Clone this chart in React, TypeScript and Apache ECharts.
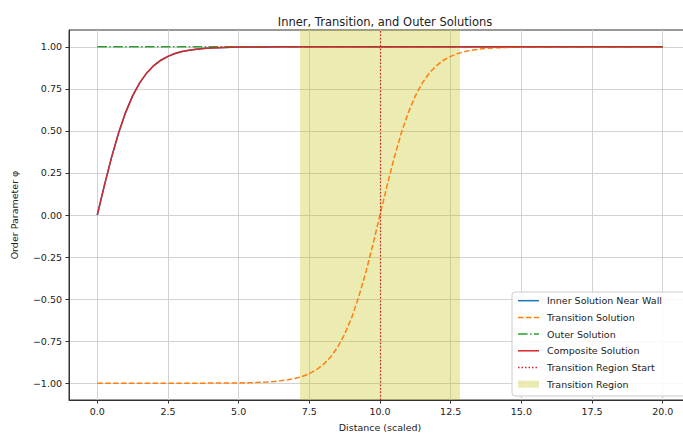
import React, { useEffect, useRef } from "react";
import * as echarts from "echarts";

const xs = [
  0, 0.25, 0.5, 0.75, 1, 1.25, 1.5, 1.75, 2, 2.25, 2.5, 2.75, 3, 3.25, 3.5, 3.75, 4,
  4.25, 4.5, 4.75, 5, 5.25, 5.5, 5.75, 6, 6.25, 6.5, 6.75, 7, 7.25, 7.5, 7.75, 8,
  8.25, 8.5, 8.75, 9, 9.25, 9.5, 9.75, 10, 10.25, 10.5, 10.75, 11, 11.25, 11.5, 11.75, 12,
  12.25, 12.5, 12.75, 13, 13.25, 13.5, 13.75, 14, 14.25, 14.5, 14.75, 15, 15.25, 15.5, 15.75, 16,
  16.25, 16.5, 16.75, 17, 17.25, 17.5, 17.75, 18, 18.25, 18.5, 18.75, 19, 19.25, 19.5, 19.75, 20,
];

const innerValues = [
  0, 0.175, 0.3395, 0.4857, 0.6089, 0.7084, 0.7859, 0.8447, 0.8884, 0.9203, 0.9434, 0.9599, 0.9717, 0.98, 0.9859, 0.9901, 0.993,
  0.9951, 0.9966, 0.9976, 0.9983, 0.9988, 0.9992, 0.9994, 0.9996, 0.9997, 0.9998, 0.9999, 1, 1, 1, 1, 1,
  1, 1, 1, 1, 1, 1, 1, 1, 1, 1, 1, 1, 1, 1, 1, 1,
  1, 1, 1, 1, 1, 1, 1, 1, 1, 1, 1, 1, 1, 1, 1, 1,
  1, 1, 1, 1, 1, 1, 1, 1, 1, 1, 1, 1, 1, 1, 1, 1,
];

const transitionValues = [
  -1, -1, -1, -1, -1, -1, -1, -1, -1, -1, -1, -1, -1, -0.9999, -0.9998, -0.9997, -0.9996,
  -0.9994, -0.9992, -0.9988, -0.9983, -0.9976, -0.9966, -0.9951, -0.993, -0.9901, -0.9859, -0.98, -0.9717, -0.9599, -0.9434, -0.9203, -0.8884,
  -0.8447, -0.7859, -0.7084, -0.6089, -0.4857, -0.3395, -0.175, 0, 0.175, 0.3395, 0.4857, 0.6089, 0.7084, 0.7859, 0.8447, 0.8884,
  0.9203, 0.9434, 0.9599, 0.9717, 0.98, 0.9859, 0.9901, 0.993, 0.9951, 0.9966, 0.9976, 0.9983, 0.9988, 0.9992, 0.9994, 0.9996,
  0.9997, 0.9998, 0.9999, 1, 1, 1, 1, 1, 1, 1, 1, 1, 1, 1, 1, 1,
];

const outerX = [0, 20];
const outerValues = [1, 1];

const compositeValues = innerValues.slice();

const transitionStart = 10;
const regionBounds = [7.17, 12.83];

const xTicks = [0, 2.5, 5, 7.5, 10, 12.5, 15, 17.5, 20];
const yTicks = [-1, -0.75, -0.5, -0.25, 0, 0.25, 0.5, 0.75, 1];

const legendNames = [
  "Inner Solution Near Wall",
  "Transition Solution",
  "Outer Solution",
  "Composite Solution",
  "Transition Region Start",
  "Transition Region",
];

const FONT = "DejaVu Sans";
const BLUE = "#1f77b4";
const ORANGE = "#ff7f0e";
const GREEN = "#2ca02c";
const RED = "#d62728";
const SPAN = "rgba(191,191,0,0.3)";
const DASH = [5.5, 2.4];
const DASHDOT = [9.6, 2.4, 1.5, 2.4];
const DOT = [1.5, 2];

export default function App() {
  const ref = useRef<HTMLDivElement>(null);
  useEffect(() => {
    document.body.style.margin = "0";
    const chart = echarts.init(ref.current!, null, { renderer: "svg" });
    const pair = (x: number[], y: number[]) => x.map((v, i) => [v, y[i]]);

    const lx = 512;
    const ly = 292;
    const rowH = 16.7;
    const firstY = 300.7;
    const handles = [
      { stroke: BLUE, dash: null },
      { stroke: ORANGE, dash: DASH },
      { stroke: GREEN, dash: DASHDOT },
      { stroke: RED, dash: null },
      { stroke: RED, dash: DOT },
      { patch: true },
    ] as any[];
    const legendElems: any[] = [
      {
        type: "rect",
        shape: { x: lx, y: ly, width: 200, height: 104, r: 3 },
        style: { fill: "rgba(255,255,255,0.85)", stroke: "#cccccc", lineWidth: 1 },
        z: 100,
      },
    ];
    handles.forEach((h, i) => {
      const cy = firstY + rowH * i;
      if (h.patch) {
        legendElems.push({
          type: "rect",
          shape: { x: 518, y: cy - 3.5, width: 21, height: 7 },
          style: { fill: SPAN },
          z: 101,
        });
      } else {
        legendElems.push({
          type: "line",
          shape: { x1: 518, y1: cy, x2: 539, y2: cy },
          style: { stroke: h.stroke, lineWidth: 1.5, lineDash: h.dash || undefined },
          z: 101,
        });
      }
      legendElems.push({
        type: "text",
        x: 547,
        y: cy,
        style: {
          text: legendNames[i],
          fontFamily: FONT,
          fontSize: 9.5,
          fill: "#222",
          verticalAlign: "middle",
          align: "left",
        },
        z: 101,
      });
    });

    chart.setOption({
      animation: false,
      backgroundColor: "#ffffff",
      title: {
        text: "Inner, Transition, and Outer Solutions",
        left: 380,
        textAlign: "center",
        top: 11,
        textStyle: { fontFamily: FONT, fontSize: 11.5, fontWeight: "normal", color: "#222" },
      },
      grid: {
        left: 69,
        top: 30,
        width: 622,
        height: 372,
        show: true,
        borderColor: "#333",
        borderWidth: 1,
        backgroundColor: "transparent",
      },
      graphic: legendElems,
      xAxis: {
        type: "value",
        min: -1,
        max: 21,
        name: "Distance (scaled)",
        nameLocation: "middle",
        nameGap: 22,
        nameTextStyle: { fontFamily: FONT, fontSize: 9.5, color: "#222" },
        axisLine: { show: true, onZero: false, lineStyle: { color: "#333", width: 1 } },
        axisTick: { show: true, length: 3.5, customValues: xTicks, lineStyle: { color: "#333" } },
        axisLabel: {
          customValues: xTicks,
          margin: 6,
          fontFamily: FONT,
          fontSize: 9.5,
          color: "#222",
          formatter: (v: number) => v.toFixed(1),
        },
        splitLine: { show: true, lineStyle: { color: "#d3d3d3", width: 1 } },
      },
      yAxis: {
        type: "value",
        min: -1.1,
        max: 1.1,
        name: "Order Parameter φ",
        nameLocation: "middle",
        nameGap: 50,
        nameTextStyle: { fontFamily: FONT, fontSize: 9.5, color: "#222" },
        axisLine: { show: true, onZero: false, lineStyle: { color: "#333", width: 1 } },
        axisTick: { show: true, length: 3.5, customValues: yTicks, lineStyle: { color: "#333" } },
        axisLabel: {
          customValues: yTicks,
          margin: 7,
          fontFamily: FONT,
          fontSize: 9.5,
          color: "#222",
          formatter: (v: number) => v.toFixed(2).replace("-", "\u2212"),
        },
        splitLine: { show: true, lineStyle: { color: "#d3d3d3", width: 1 } },
      },
      series: [
        {
          name: "Transition Region",
          type: "line",
          data: [],
          z: 1,
          markArea: {
            silent: true,
            itemStyle: { color: SPAN },
            data: [[{ xAxis: regionBounds[0] }, { xAxis: regionBounds[1] }]],
          },
        },
        {
          name: "Inner Solution Near Wall",
          type: "line",
          data: pair(xs, innerValues),
          showSymbol: false,
          symbol: "none",
          lineStyle: { color: BLUE, width: 1.5 },
          z: 2,
        },
        {
          name: "Transition Solution",
          type: "line",
          data: pair(xs, transitionValues),
          showSymbol: false,
          symbol: "none",
          lineStyle: { color: ORANGE, width: 1.5, type: DASH },
          z: 3,
        },
        {
          name: "Outer Solution",
          type: "line",
          data: pair(outerX, outerValues),
          showSymbol: false,
          symbol: "none",
          lineStyle: { color: GREEN, width: 1.5, type: DASHDOT },
          z: 4,
        },
        {
          name: "Composite Solution",
          type: "line",
          data: pair(xs, compositeValues),
          showSymbol: false,
          symbol: "none",
          lineStyle: { color: RED, width: 1.5 },
          z: 5,
        },
        {
          name: "Transition Region Start",
          type: "line",
          data: [],
          symbol: "none",
          z: 6,
          markLine: {
            silent: true,
            symbol: "none",
            label: { show: false },
            lineStyle: { color: RED, width: 1.2, type: DOT },
            data: [{ xAxis: transitionStart }],
          },
        },
      ],
    });
    return () => chart.dispose();
  }, []);
  return (
    <div style={{ width: 683, height: 437, overflow: "hidden", position: "relative" }}>
      <div ref={ref} style={{ width: 720, height: 437 }} />
    </div>
  );
}
